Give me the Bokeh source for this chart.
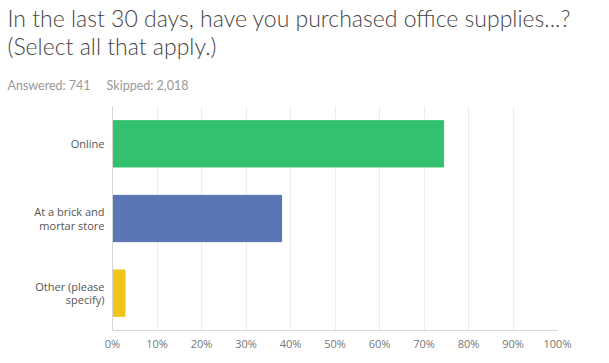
from bokeh.plotting import figure
from bokeh.models import Range1d, FactorRange, Title, FixedTicker, ColumnDataSource
from bokeh.embed import file_html
from bokeh.resources import INLINE

categories = ["Online", "At a brick and\nmortar store", "Other (please\nspecify)"]
values = [74.4, 38.0, 2.8]
colors = ["#33c16f", "#5b76b5", "#f0c419"]
x_ticks = [0, 10, 20, 30, 40, 50, 60, 70, 80, 90, 100]
title_line1 = "In the last 30 days, have you purchased office supplies...?"
title_line2 = "(Select all that apply.)"
answered_text = "Answered: 741"
skipped_text = "Skipped: 2,018"

W, H = 609, 363
FL, FR, FB = 112, 52, 33
p = figure(width=W, height=H, output_backend="svg", toolbar_location=None,
           y_range=FactorRange(*categories[::-1]), x_range=Range1d(0, 100),
           min_border_left=FL, min_border_right=FR, min_border_top=0,
           min_border_bottom=FB)

src = ColumnDataSource(dict(cat=categories, val=values, color=colors))
p.hbar(y="cat", right="val", left=0, height=0.62, color="color", source=src)

p.outline_line_color=None
p.background_fill_color="white"
p.xgrid.grid_line_color="#ececec"
p.ygrid.grid_line_color=None
p.xaxis.ticker = FixedTicker(ticks=x_ticks)
p.xaxis.major_label_overrides = {t: f"{t}%" for t in x_ticks}
p.xaxis.major_tick_line_color=None
p.xaxis.major_tick_out=0
p.xaxis.minor_tick_line_color=None
p.xaxis.axis_line_color="#d6d6d6"
p.xaxis.major_label_text_font="Open Sans"
p.xaxis.major_label_text_font_size="11px"
p.xaxis.major_label_text_color="#777777"
p.xaxis.major_label_standoff=5
p.yaxis.major_tick_line_color=None
p.yaxis.major_tick_out=0
p.yaxis.minor_tick_line_color=None
p.yaxis.axis_line_color="#d6d6d6"
p.yaxis.major_label_text_font="Open Sans"
p.yaxis.major_label_text_font_size="11px"
p.yaxis.major_label_text_color="#555555"
p.yaxis.major_label_text_line_height=0.9
p.yaxis.major_label_standoff=8

gap = "\u00a0" * 5
for txt, font, size, color, standoff, lh in [
    (answered_text + gap + skipped_text, "Lato", "12.5px", "#999999", 28, 1.0),
    (title_line1 + "\n" + title_line2, "Lato Light, Lato", "23px", "#454545", 2, 1.02),
]:
    p.add_layout(Title(text=txt, align="left", offset=7 - FL, standoff=standoff,
                       text_font=font, text_font_style="normal", text_line_height=lh,
                       text_font_size=size, text_color=color), "above")

open("out.html", "w").write(file_html(p, INLINE))
